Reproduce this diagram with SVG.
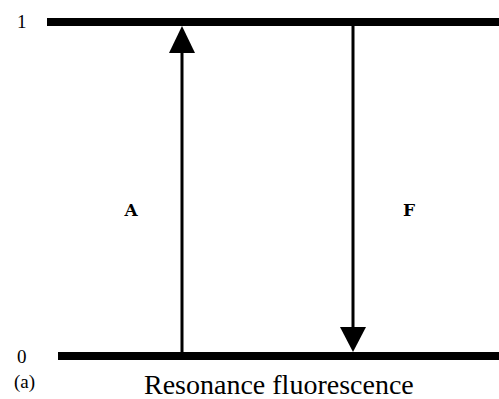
<svg xmlns="http://www.w3.org/2000/svg" width="499" height="399" viewBox="0 0 499 399">
<style>
.lvl{stroke:#000;stroke-width:8;fill:none}
.tr{stroke:#000;stroke-width:3;fill:none}
.num{font-family:"Liberation Serif",serif;font-size:19px;fill:#000}
.lab{font-family:"DejaVu Serif",serif;font-weight:bold;font-size:17px;fill:#000}
.cap{font-family:"Liberation Serif",serif;font-size:28px;fill:#000}
</style>
<rect width="499" height="399" fill="#fff"/>
<g id="level1"><line class="lvl" x1="47" y1="22" x2="499" y2="22"/><text class="num" x="17" y="28">1</text></g>
<g id="level0"><line class="lvl" x1="58" y1="356" x2="499" y2="356"/><text class="num" x="17" y="363">0</text></g>
<g id="connectors">
<g id="absorption"><line class="tr" x1="182" y1="352" x2="182" y2="50"/><polygon points="182,26 169,53 195,53" fill="#000"/></g>
<g id="fluorescence"><line class="tr" x1="353" y1="26" x2="353" y2="330"/><polygon points="353,352 340,327 366,327" fill="#000"/></g>
</g>
<text class="lab" x="131" y="216" text-anchor="middle">A</text>
<text class="lab" x="409" y="216" text-anchor="middle">F</text>
<text class="num" x="14" y="388">(a)</text>
<text class="cap" x="144" y="394">Resonance fluorescence</text>
</svg>
